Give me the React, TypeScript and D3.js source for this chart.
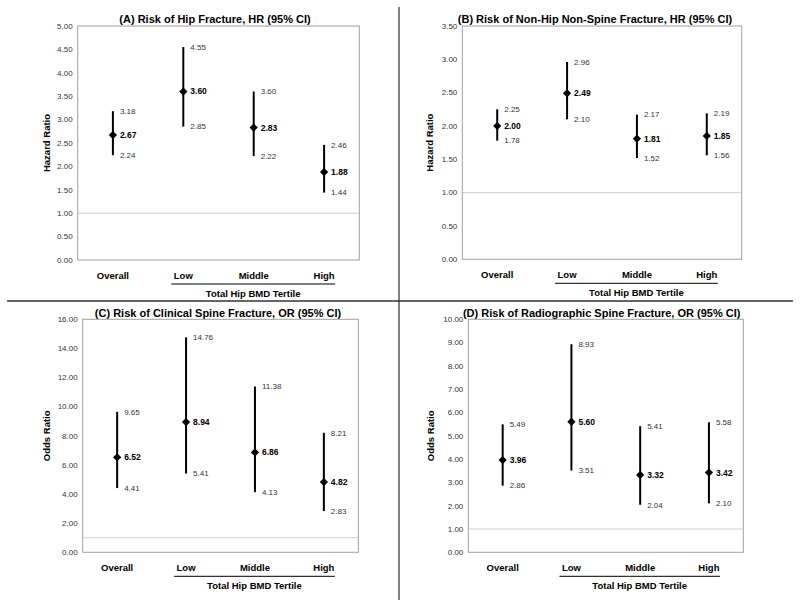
import React from "react";
import * as d3 from "d3";

const categories = ["Overall", "Low", "Middle", "High"];

const titleA = "(A) Risk of Hip Fracture, HR (95% CI)";
const estA = [2.67, 3.6, 2.83, 1.88];
const loA = [2.24, 2.85, 2.22, 1.44];
const hiA = [3.18, 4.55, 3.6, 2.46];
const ticksA = [0, 0.5, 1, 1.5, 2, 2.5, 3, 3.5, 4, 4.5, 5];

const titleB = "(B) Risk of Non-Hip Non-Spine Fracture, HR (95% CI)";
const estB = [2.0, 2.49, 1.81, 1.85];
const loB = [1.78, 2.1, 1.52, 1.56];
const hiB = [2.25, 2.96, 2.17, 2.19];
const ticksB = [0, 0.5, 1, 1.5, 2, 2.5, 3, 3.5];

const titleC = "(C) Risk of Clinical Spine Fracture, OR (95% CI)";
const estC = [6.52, 8.94, 6.86, 4.82];
const loC = [4.41, 5.41, 4.13, 2.83];
const hiC = [9.65, 14.76, 11.38, 8.21];
const ticksC = [0, 2, 4, 6, 8, 10, 12, 14, 16];

const titleD = "(D) Risk of Radiographic Spine Fracture, OR (95% CI)";
const estD = [3.96, 5.6, 3.32, 3.42];
const loD = [2.86, 3.51, 2.04, 2.1];
const hiD = [5.49, 8.93, 5.41, 5.58];
const ticksD = [0, 1, 2, 3, 4, 5, 6, 7, 8, 9, 10];

const yTitleHR = "Hazard Ratio";
const yTitleOR = "Odds Ratio";
const groupLabel = "Total Hip BMD Tertile";
const refValue = 1;

const FONT = "Liberation Sans, Arial, Helvetica, sans-serif";

type PanelProps = {
  title: string;
  yTitle: string;
  est: number[];
  lo: number[];
  hi: number[];
  ticks: number[];
  left: number;
  right: number;
  top: number;
  bottom: number;
  titleX: number;
  titleY: number;
  yTitleX: number;
};

function Panel(p: PanelProps) {
  const x = d3.scaleBand<string>().domain(categories).range([p.left, p.right]).padding(0);
  const yMax = d3.max(p.ticks) as number;
  const y = d3.scaleLinear().domain([0, yMax]).range([p.bottom, p.top]);
  const cx = (c: string) => (x(c) as number) + x.bandwidth() / 2;
  const fmt = d3.format(".2f");
  const diamond = d3.symbol().type(d3.symbolSquare).size(34)() as string;
  const ulStart = cx("Low") - 12;
  const ulEnd = cx("High") + 11;
  return (
    <g fontFamily={FONT}>
      <text x={p.titleX} y={p.titleY} textAnchor="middle" fontWeight="bold" fontSize={11} fill="#000">
        {p.title}
      </text>
      <line x1={p.left} x2={p.right} y1={y(refValue)} y2={y(refValue)} stroke="#cfcfcf" strokeWidth={1} />
      <rect x={p.left} y={p.top} width={p.right - p.left} height={p.bottom - p.top} fill="none" stroke="#a0a0a0" strokeWidth={1} />
      {p.ticks.map((t) => (
        <text key={t} x={p.left - 5} y={y(t)} dy="0.35em" textAnchor="end" fontSize={8} fill="#333">
          {fmt(t)}
        </text>
      ))}
      <text
        transform={`translate(${p.yTitleX},${(p.top + p.bottom) / 2}) rotate(-90)`}
        textAnchor="middle"
        fontWeight="bold"
        fontSize={9.5}
        dy="0.35em"
        fill="#000"
      >
        {p.yTitle}
      </text>
      {categories.map((c, i) => (
        <g key={c}>
          <line x1={cx(c)} x2={cx(c)} y1={y(p.lo[i])} y2={y(p.hi[i])} stroke="#000" strokeWidth={2} />
          <path d={diamond} transform={`translate(${cx(c)},${y(p.est[i])}) rotate(45)`} fill="#000" />
          <text x={cx(c) + 7} y={y(p.hi[i])} dy="0.35em" fontSize={8} fill="#333">
            {fmt(p.hi[i])}
          </text>
          <text x={cx(c) + 7} y={y(p.lo[i])} dy="0.35em" fontSize={8} fill="#333">
            {fmt(p.lo[i])}
          </text>
          <text x={cx(c) + 7} y={y(p.est[i])} dy="0.35em" fontSize={8.5} fontWeight="bold" fill="#000">
            {fmt(p.est[i])}
          </text>
          <text x={cx(c)} y={p.bottom + 18.5} textAnchor="middle" fontSize={9.5} fontWeight="bold" fill="#000">
            {c}
          </text>
        </g>
      ))}
      <line x1={ulStart} x2={ulEnd} y1={p.bottom + 24} y2={p.bottom + 24} stroke="#000" strokeWidth={1} />
      <text x={(ulStart + ulEnd) / 2} y={p.bottom + 36.5} textAnchor="middle" fontSize={9.5} fontWeight="bold" fill="#000">
        {groupLabel}
      </text>
    </g>
  );
}

export default function App() {
  return (
    <svg
      width={800}
      height={605}
      viewBox="0 0 800 605"
      style={{ position: "absolute", left: 0, top: 0, background: "#fff" }}
    >
      <rect x={0} y={0} width={800} height={605} fill="#fff" />
      <Panel title={titleA} yTitle={yTitleHR} est={estA} lo={loA} hi={hiA} ticks={ticksA}
        left={77.7} right={359.3} top={26} bottom={260} titleX={215} titleY={23} yTitleX={47} />
      <Panel title={titleB} yTitle={yTitleHR} est={estB} lo={loB} hi={hiB} ticks={ticksB}
        left={462.3} right={741.7} top={26} bottom={259.3} titleX={595} titleY={23} yTitleX={430} />
      <Panel title={titleC} yTitle={yTitleOR} est={estC} lo={loC} hi={hiC} ticks={ticksC}
        left={82.7} right={358.3} top={319.3} bottom={552.3} titleX={218} titleY={317} yTitleX={47} />
      <Panel title={titleD} yTitle={yTitleOR} est={estD} lo={loD} hi={hiD} ticks={ticksD}
        left={468.3} right={743.3} top={319.3} bottom={552.3} titleX={601.7} titleY={316.5} yTitleX={431} />
      <line x1={399} x2={399} y1={7} y2={600} stroke="#555" strokeWidth={1.5} />
      <line x1={7} x2={793} y1={301} y2={301} stroke="#333" strokeWidth={1.5} />
    </svg>
  );
}
